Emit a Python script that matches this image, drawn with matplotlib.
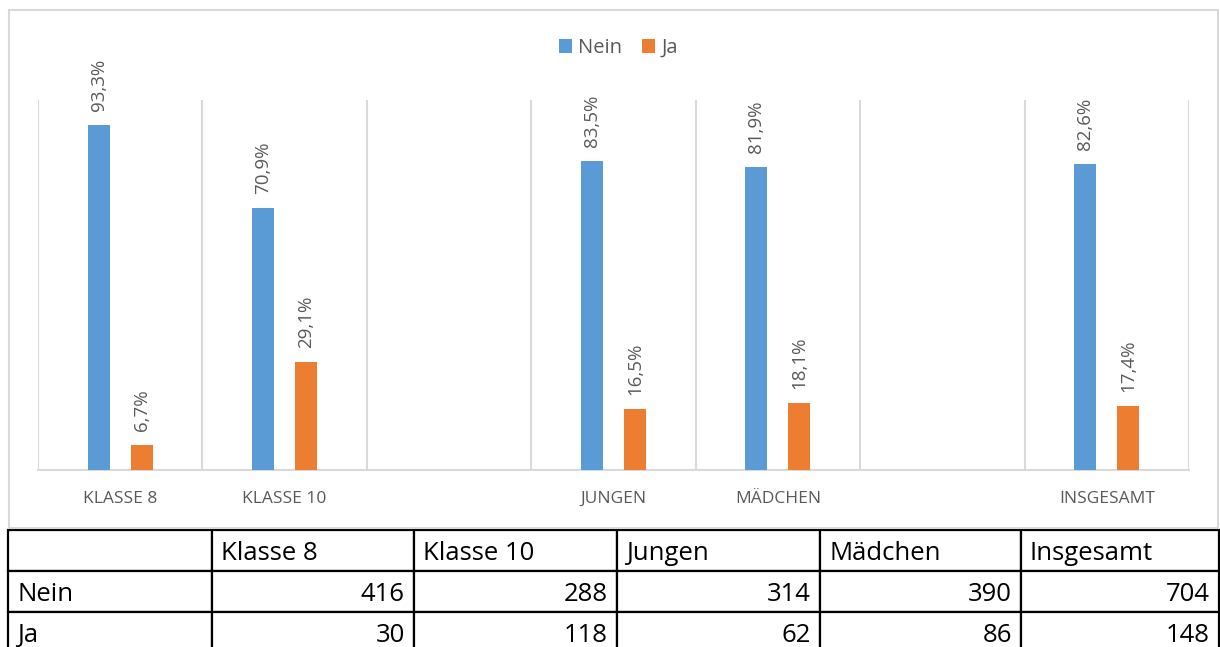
import numpy as np
import matplotlib
matplotlib.use("Agg")
import matplotlib.pyplot as plt
from matplotlib.patches import Rectangle
from matplotlib.transforms import ScaledTranslation

# ---- data ----
categories = ["Klasse 8", "Klasse 10", "", "Jungen", "Mädchen", "", "Insgesamt"]
nein_pct = [93.3, 70.9, np.nan, 83.5, 81.9, np.nan, 82.6]
ja_pct = [6.7, 29.1, np.nan, 16.5, 18.1, np.nan, 17.4]
table_cols = ["Klasse 8", "Klasse 10", "Jungen", "Mädchen", "Insgesamt"]
nein_counts = [416, 288, 314, 390, 704]
ja_counts = [30, 118, 62, 86, 148]
series_names = ["Nein", "Ja"]

BLUE = "#5B9BD5"
ORANGE = "#ED7D31"
GRAY = "#595959"
GRID = "#D9D9D9"
FONT = ["Open Sans", "DejaVu Sans"]

plt.rcParams["font.family"] = FONT

W, H = 1220, 647
fig = plt.figure(figsize=(W / 100, H / 100), dpi=100)

# chart border
fig.patches.append(Rectangle((9 / W, 1 - 528 / H), 1209 / W, 518 / H,
                             transform=fig.transFigure, fill=False,
                             edgecolor=GRID, linewidth=1.5, zorder=0))

ax = fig.add_axes([38 / W, 1 - 470 / H, 1151 / W, 370 / H])
x = np.arange(len(categories))
bw = 0.134
off = 0.131
b1 = ax.bar(x - off, nein_pct, bw, color=BLUE, label=series_names[0], zorder=3)
b2 = ax.bar(x + off, ja_pct, bw, color=ORANGE, label=series_names[1], zorder=3)

def fmt(v):
    return f"{v:.1f}%".replace(".", ",")

for xs, vals in ((x - off, nein_pct), (x + off, ja_pct)):
    for xi, v in zip(xs, vals):
        if np.isnan(v):
            continue
        ax.annotate(fmt(v), (xi, v), xytext=(0, 10), textcoords="offset points",
                    rotation=90, ha="center", va="bottom", color=GRAY,
                    fontsize=13.5)

ax.set_xlim(-0.5, len(categories) - 0.5)
ax.set_ylim(0, 100)
ax.set_yticks([])
ax.set_xticks(x)
ax.set_xticklabels([c.upper() for c in categories], color=GRAY, fontsize=12.5)
ax.tick_params(axis="x", length=0, pad=15)
ax.set_xticks(np.arange(-0.5, len(categories)), minor=True)
ax.tick_params(axis="x", which="minor", length=0)
ax.grid(axis="x", which="minor", color=GRID, linewidth=1.5, zorder=0)
for s in ("top", "left", "right"):
    ax.spines[s].set_visible(False)
ax.spines["bottom"].set_color(GRID)
ax.spines["bottom"].set_linewidth(1.5)

fig.legend(handles=[b1, b2], labels=series_names, loc="center",
           bbox_to_anchor=(0.507, 1 - 48 / H), ncol=2, frameon=False,
           handlelength=0.65, handleheight=0.65, handletextpad=0.3,
           columnspacing=1.0, fontsize=14.5, labelcolor=GRAY)

# ---- table ----
tax = fig.add_axes([8 / W, 1 - 653 / H, 1211 / W, 123 / H])
tax.axis("off")
cell_text = [[""] + table_cols,
             [series_names[0]] + [str(v) for v in nein_counts],
             [series_names[1]] + [str(v) for v in ja_counts]]
tbl = tax.table(cellText=cell_text, bbox=[0, 0, 1, 1], cellLoc="left")
tbl.auto_set_font_size(False)
colw = [204, 202, 203, 203, 201, 198]
shift = ScaledTranslation(0, -2 / 72, fig.dpi_scale_trans)
for (r, c), cell in tbl.get_celld().items():
    cell.set_width(colw[c] / sum(colw))
    cell.set_linewidth(1.6)
    cell.set_edgecolor("black")
    cell.PAD = 0.045
    t = cell.get_text()
    t.set_fontsize(18.5)
    t.set_color("black")
    t.set_transform(t.get_transform() + shift)
    if r > 0 and c > 0:
        t.set_horizontalalignment("right")
        cell._loc = "right"
    else:
        cell._loc = "left"

fig.savefig("out.png", dpi=100)
